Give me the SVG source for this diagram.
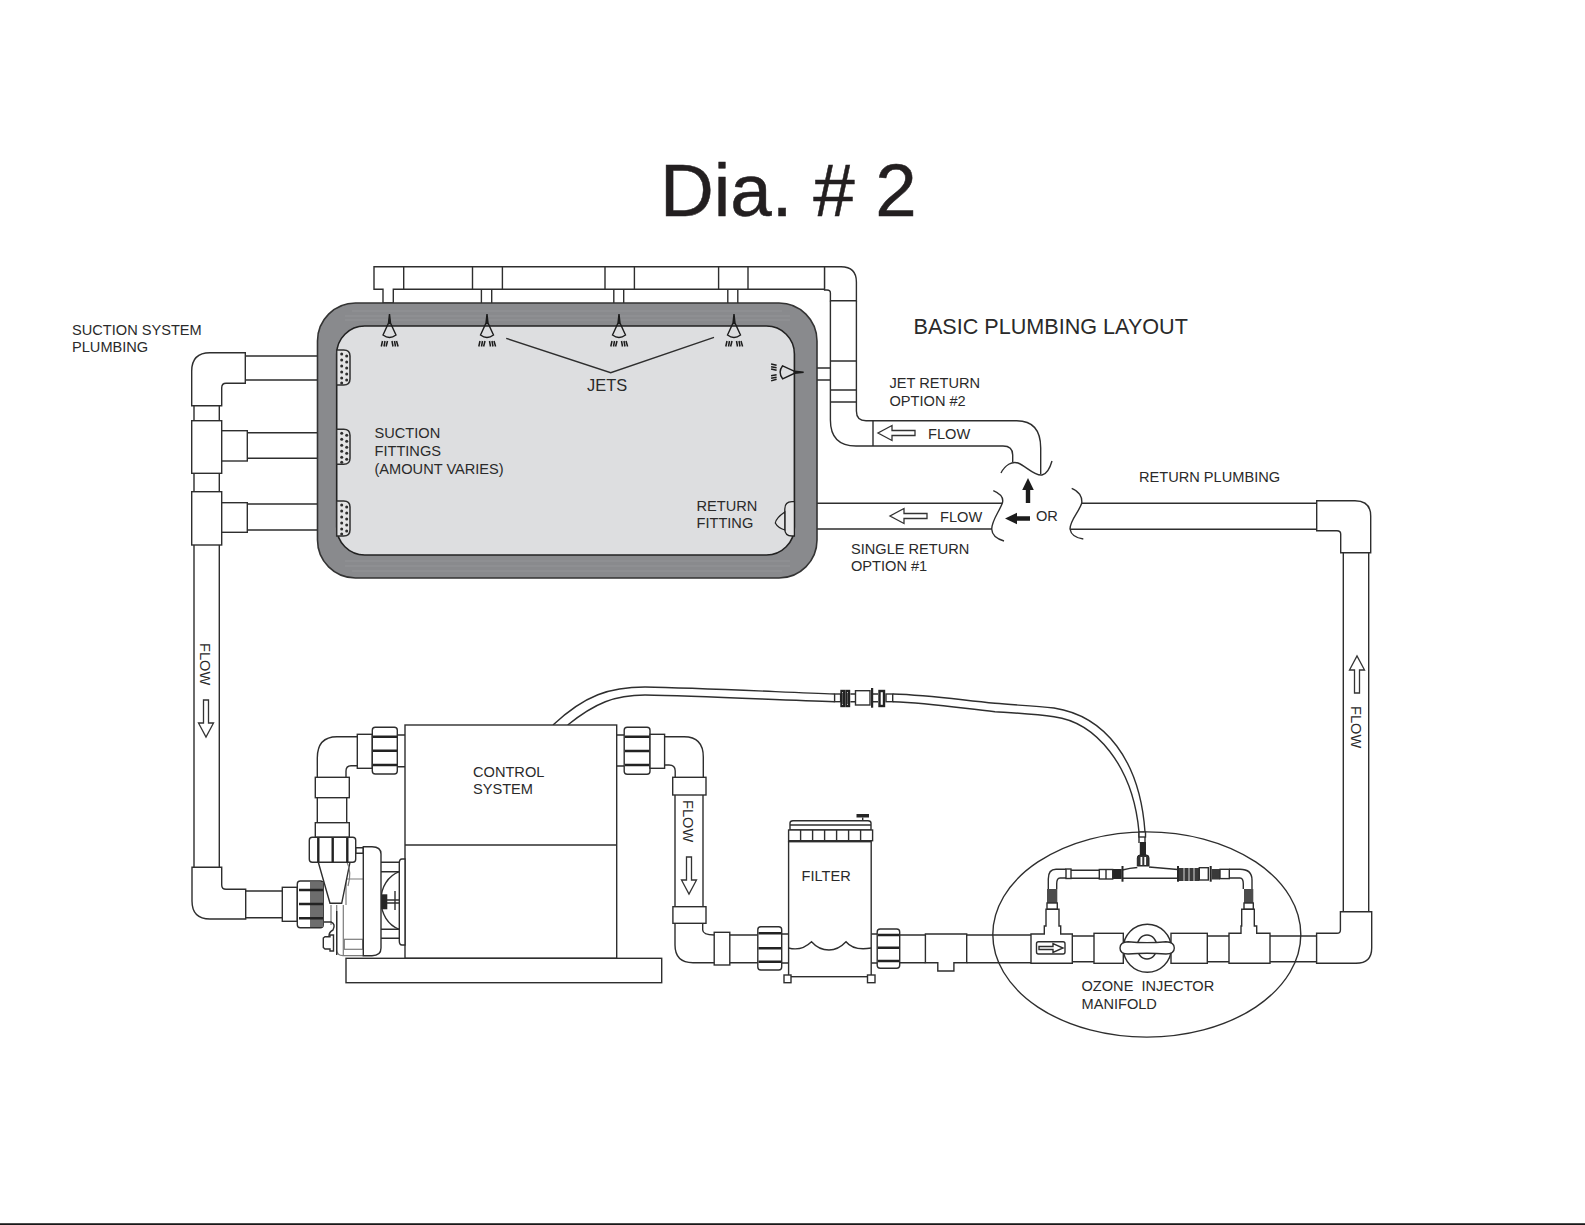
<svg xmlns="http://www.w3.org/2000/svg" width="1585" height="1225" viewBox="0 0 1585 1225">
<style>
.l{fill:none;stroke:#2e2e2e;stroke-width:1.4}
.f{fill:#fff;stroke:#2e2e2e;stroke-width:1.4}
.g{fill:none;stroke:#7c7c7c;stroke-width:1.2}
.d{fill:#262626;stroke:none}
.b{fill:none;stroke:#222;stroke-width:2.4}
text{font-family:"Liberation Sans",Arial,sans-serif;font-size:14.6px;fill:#2a2a2a;white-space:pre}
</style>
<defs>
<path id="flow" d="M-2.5,0h5v23h5l-7.5,14l-7.5,-14h5z" fill="#fff" stroke="#333" stroke-width="1.3"/>
<path id="solid" d="M-2.2,0h4.4v13h3.6l-5.8,12l-5.8,-12h3.6z" fill="#1c1c1c"/>
<g id="jet">
<path d="M0,0L-1,9L-6.5,21Q0,26 6.5,21L1,9Z" fill="none" stroke="#1c1c1c" stroke-width="1.4"/>
<path d="M0,0L-1.2,10L1.2,10Z" fill="#1c1c1c"/>
<path d="M-7,27l-1.2,5.5M-4.5,27l-1,5.5M-2,27l-1.4,5.5M2.5,27l1,5.5M5,27l1,5.5M7,27l1.6,5.5" fill="none" stroke="#1c1c1c" stroke-width="1.5"/>
</g>
<g id="suction">
<path d="M0,0H7Q13.3,0 13.3,6V29Q13.3,35 7,35H0Z" fill="#e4e4e5" stroke="#2e2e2e" stroke-width="1.5"/>
<g fill="#2e2e2e">
<circle cx="5" cy="4" r="1.5"/><circle cx="10" cy="6" r="1.5"/><circle cx="5" cy="10" r="1.5"/><circle cx="10" cy="12" r="1.5"/><circle cx="5" cy="16" r="1.5"/><circle cx="10" cy="18" r="1.5"/><circle cx="5" cy="22" r="1.5"/><circle cx="10" cy="24" r="1.5"/><circle cx="5" cy="28" r="1.5"/><circle cx="10" cy="30" r="1.5"/><circle cx="5" cy="33" r="1.5"/>
</g>
</g>
</defs>
<rect width="1585" height="1225" fill="#fff"/>
<rect y="1223.3" width="1585" height="1.6" fill="#000"/>
<text x="660" y="216" style="font-size:74.5px;fill:#231f20;stroke:#231f20;stroke-width:.5">Dia. # 2</text>

<g id="connectors">
<!-- jet header -->
<path class="f" d="M374,266.7H824.6V289.3H393.3V303H383V289.3H374Z"/>
<path class="l" d="M403.7,266.7V289.3M472.5,266.7V289.3M502.4,266.7V289.3M605,266.7V289.3M634.4,266.7V289.3M718.6,266.7V289.3M748,266.7V289.3"/>
<path class="l" d="M481.4,289.3V303M491.7,289.3V303M613.8,289.3V303M623.7,289.3V303M727.8,289.3V303M737.8,289.3V303"/>
<path class="f" d="M824.6,266.7H841Q856.4,266.7 856.4,282V300.7H830.4V293Q830.4,290 827,290H824.6Z"/>
<path class="l" d="M856.4,300.7V411Q856.4,420.7 866,420.7H1016.7Q1040.7,420.7 1040.7,448V474"/>
<path class="l" d="M830.4,300.7V420Q830.4,446 856,446H1003Q1012.7,446 1012.7,455V462"/>
<path class="l" d="M830.4,361H856.4M830.4,390H856.4M830.4,402H856.4M873,420.7V446M817,368H830.4M817,380H830.4"/>
<path class="l" d="M1001,473C1005,465 1012,461 1018,463C1026,466 1034,476 1042,475C1047,474 1050,468 1052,461"/>
<!-- return pipe -->
<path class="l" d="M817,503.3H1002.3M817,529H991.7"/>
<path class="l" d="M993.3,490.7C1001,494 1004,498 1002.3,503.3C999,512 992,520 991.7,529C992,535 997,539 1004,541"/>
<path class="l" d="M1071.7,488.3C1079,491 1082.5,497 1081.7,503.3C1079,512 1070,520 1070,529C1071,535 1076,538 1083.3,539"/>
<path class="l" d="M1081.7,503.3H1316.7M1070,529.3H1316.7"/>
<path class="f" d="M1316.7,500.7H1355Q1370.7,500.7 1370.7,516V552.7H1340.7V534Q1340.7,530.7 1337,530.7H1316.7Z"/>
<path class="l" d="M1343.3,552.7V911.7M1368.7,552.7V911.7"/>
<path class="f" d="M1340.4,911.7H1371.7V948Q1371.7,963.3 1356,963.3H1316.6V933.3H1337Q1340.4,933.3 1340.4,930Z"/>
<!-- suction pipes -->
<path class="l" d="M245.3,356H317M245.3,380H317M247.3,432.7H317M247.3,458.3H317M247.3,504H317M247.3,530H317"/>
<path class="f" d="M191.7,405.7V371Q191.7,352.7 210,352.7H245.3V383.3H226Q221.7,383.3 221.7,388V405.7Z"/>
<path class="l" d="M194,405.7V420.7M219.3,405.7V420.7M194,473.3V491.7M219.3,473.3V491.7M194,545V867.3M219.3,545V867.3"/>
<rect class="f" x="191.7" y="420.7" width="30" height="52.6"/>
<rect class="f" x="221.7" y="430.7" width="25.6" height="30.3"/>
<rect class="f" x="191.7" y="491.7" width="30" height="53.3"/>
<rect class="f" x="221.7" y="502.7" width="25.6" height="29.6"/>
<path class="f" d="M192,867.3H221.7V885Q221.7,889.3 226,889.3H245.7V919H210Q192,919 192,901Z"/>
<path class="l" d="M245.7,891H282.3M245.7,917.7H282.3"/>
<!-- pump outlet to control system -->
<path class="l" d="M357.3,736.7H337Q317.3,736.7 317.3,758V777.3M357.3,765.7H351Q346,765.7 346,771V777.3"/>
<rect class="f" x="315.3" y="777.3" width="34" height="20.4"/>
<path class="l" d="M317.3,797.7V822.7M346.7,797.7V822.7"/>
<rect class="f" x="315.3" y="822.7" width="34" height="14.6"/>
<rect class="f" x="357.3" y="734.3" width="15" height="34"/>
<path class="l" d="M397.3,735H405M397.3,766.7H405"/>
<rect class="f" x="372.3" y="727.3" width="25" height="46.7" rx="3"/>
<path class="b" d="M373,736.7H397M373,750.7H397M373,765H397"/>
<!-- control to filter -->
<path class="l" d="M616.7,735H624.2M616.7,766H624.2"/>
<rect class="f" x="624.2" y="727.3" width="25.8" height="47" rx="3"/>
<path class="b" d="M625,736.7H649.5M625,751H649.5M625,765H649.5"/>
<rect class="f" x="650" y="734.3" width="14.6" height="34"/>
<path class="l" d="M664.6,736.7H684Q703.3,736.7 703.3,757V777.3M664.6,765H669Q675.2,765 675.2,771V777.3"/>
<rect class="f" x="672.7" y="777.3" width="33.3" height="17.7"/>
<path class="l" d="M675,795V906.7M703,795V906.7"/>
<rect class="f" x="672.9" y="906.7" width="33.1" height="16.6"/>
<path class="l" d="M675,923.3V945Q675,962.7 693,962.7H714.2M702.7,923.3V930Q703,935 714.2,935"/>
<rect class="f" x="714.2" y="932.3" width="15.6" height="32.7"/>
<path class="l" d="M729.8,935H757.8M729.8,962.7H757.8M781.7,934H788.6M781.7,963H788.6"/>
<rect class="f" x="757.8" y="926.7" width="23.9" height="43.3" rx="3"/>
<path class="b" d="M758.5,933.3H781M758.5,948.3H781M758.5,961.7H781"/>
<!-- filter to manifold -->
<path class="l" d="M871.2,934H877.2M871.2,963H877.2"/>
<rect class="f" x="877.2" y="929" width="22.5" height="39.3" rx="3"/>
<path class="b" d="M878,935H899M878,947.7H899M878,961H899"/>
<path class="l" d="M899.7,935H925.4M899.7,962.7H925.4M966.7,935H1031M966.7,962.7H1031"/>
<path class="f" d="M925.4,934H966.7V962.7H953.9V971H937.8V962.7H925.4Z"/>
<!-- hose -->
<path class="l" d="M553,725C585,695 610,687 645,687C700,688 780,692 834.6,694"/>
<path class="l" d="M567.7,725C595,703 615,695 645,695C700,696 780,700 834.6,701.7"/>
<path class="l" d="M892.7,694C930,695 960,700 995,703.3C1015,705 1035,706 1054,708C1105,716 1140,760 1145,832"/>
<path class="l" d="M892.7,701.7C930,703 960,708 995,711.7C1015,713 1035,714 1054,716.7C1095,722 1133,765 1139,832"/>
<rect class="f" x="834.6" y="694" width="6" height="7.7"/>
<rect class="b" x="841.5" y="691" width="2.5" height="15"/>
<rect class="b" x="846.5" y="691" width="2.5" height="15"/>
<path class="l" d="M850.4,694H855.5M850.4,701.7H855.5M873,694H878M873,701.7H878"/>
<rect class="f" x="855.5" y="690.7" width="14.5" height="14.3"/>
<rect class="d" x="871" y="688" width="2.2" height="19.7"/>
<rect class="b" x="879.5" y="691" width="4.5" height="15"/>
<rect class="f" x="886" y="694" width="6.7" height="7.7"/>
<!-- pipe right of manifold -->
<path class="l" d="M1072.3,936H1094M1207.3,936H1229M1207.3,961.7H1229M1072.3,961.7H1094M1270,936H1316.6M1270,961.7H1316.6"/>
</g>

<g id="tank">
<rect x="317.5" y="303" width="499.5" height="275" rx="38" fill="#898a8d" stroke="#333" stroke-width="1.6"/>
<path d="M352,311H782M345,316H790M345,320H790M345,561H790M345,566H790M352,571H782" fill="none" stroke="#a2a3a5" stroke-width=".8" opacity=".55"/>
<rect x="336.7" y="326" width="457.7" height="229" rx="28" fill="#dddee0" stroke="#222" stroke-width="1.6"/>
<use href="#jet" x="389.5" y="314"/>
<use href="#jet" x="487" y="314"/>
<use href="#jet" x="619" y="314"/>
<use href="#jet" x="734" y="314"/>
<use href="#jet" transform="translate(803.6,372.3) rotate(90)"/>
<use href="#suction" x="336.7" y="350"/>
<use href="#suction" x="336.7" y="429.3"/>
<use href="#suction" x="336.7" y="501"/>
<path d="M794.4,501.7H792Q784.8,501.7 784.8,509V529Q784.8,536 792,536H794.4Z" fill="#e4e4e5" stroke="#222" stroke-width="1.3"/>
<path d="M784.8,512Q776,518 775.3,523Q778,528 784.8,530Z" fill="#e4e4e5" stroke="#222" stroke-width="1.3"/>
<path class="l" d="M506.2,338.3L610.7,372.7L714,337.3"/>
</g>

<g id="control-system">
<rect class="f" x="405" y="725" width="211.7" height="233.3"/>
<path class="l" d="M405,845H616.7"/>
<rect class="f" x="346" y="958.3" width="315.7" height="24.4"/>
</g>

<g id="pump">
<rect class="f" x="282.3" y="887.3" width="15" height="34"/>
<path class="g" d="M336.7,905V950Q337,955.7 343,955.7H363.3M343.3,905V955.7M346.7,879H363.3M346,879V905"/>
<rect class="g" x="344.3" y="939.3" width="18.4" height="10"/>
<path class="g" d="M331,905V925"/>
<path class="l" d="M323.3,922H331Q336,924 333,930Q329,932 329,936"/>
<path class="f" d="M323.3,938L325,936.7H330V935H333.5V951H330V949H325L323.3,947.5Z"/>
<path class="l" d="M336.7,911V955"/>
<path class="l" d="M381,862.3H399.3M381,871.7H399.3M381,929.3H399.3M381,938.3H399.3"/>
<path class="l" d="M399.3,871.7C388,876 381,887 381,900C381,914 388,925 399.3,929.3"/>
<path class="f" d="M405,859H402Q399.3,859 399.3,863V941Q399.3,945 402,945H405Z"/>
<rect class="d" x="381" y="894.3" width="6.3" height="15"/>
<path class="l" d="M387,900H399M387,903H399M395,891V910"/>
<path class="f" d="M355.7,847.7H363.3V853.3H355.7Z"/>
<path class="f" d="M363.3,846.7H372Q381,846.7 381,854V948Q381,955.7 372,955.7H363.3Z"/>
<rect class="f" x="297.3" y="881" width="26" height="46.7" rx="3"/>
<rect x="310" y="882" width="13.3" height="45" fill="#6d6d6d"/>
<path class="b" d="M299,890H323M299,904H323M299,918.3H323"/>
<path class="f" d="M318.3,862.3L330,903.3L341.7,903.3L350,862.3Z"/>
<path class="g" d="M347,862.3Q352,872 348,886"/>
<rect class="f" x="309.3" y="837.3" width="46.4" height="25" rx="3"/>
<path class="b" d="M318.3,838V862M332.7,838V862M347.3,838V862"/>
</g>

<g id="filter">
<rect class="f" x="788.6" y="841.7" width="82.6" height="135"/>
<path class="l" d="M788.6,948C796,950 804,949 811.5,941.7C818,949 824,950 829,950C836,950 841,947 846,941.7C852,949 860,950 871.2,948"/>
<rect class="f" x="784" y="975" width="7" height="7.7"/>
<rect class="f" x="867.5" y="975" width="7.5" height="7.7"/>
<path class="f" d="M790,830V823Q790,820.7 793,820.7H868Q871,820.7 871,823V830Z"/>
<path class="l" d="M790,825H871"/>
<rect class="d" x="856.5" y="814" width="12.5" height="3.5"/>
<path class="l" d="M862.7,817.5V821"/>
<rect class="f" x="788.6" y="830" width="84" height="10.7"/>
<path class="l" d="M800.6,830V840.7M812.6,830V840.7M824.6,830V840.7M836.6,830V840.7M848.6,830V840.7M860.6,830V840.7"/>
</g>

<g id="ozone-injector-manifold">
<ellipse class="l" cx="1146.8" cy="934.5" rx="154" ry="102.6"/>
<path class="f" d="M1031,934H1044.3V926H1046V909.3H1059V926H1060.7V934H1072.3V963.3H1031Z"/>
<rect class="f" x="1036.5" y="941.7" width="28.5" height="12.3" rx="2"/>
<path class="f" d="M1039,946.5H1053V943.5L1063,948L1053,952.5V949.5H1039Z"/>
<rect class="f" x="1094" y="933.3" width="29.3" height="30"/>
<rect class="f" x="1171" y="933.3" width="36.3" height="30"/>
<ellipse class="f" cx="1147.3" cy="948.3" rx="24" ry="24"/>
<ellipse class="f" cx="1147" cy="947" rx="10" ry="12"/>
<path class="f" d="M1120,948Q1120,942 1128,941.7Q1147,943.5 1166,941.7Q1174.3,942 1174.3,948Q1174.3,954 1166,954Q1147,952.5 1128,954Q1120,954 1120,948Z"/>
<path class="f" d="M1229,933.3H1241V926H1241.7V909.3H1254.3V926H1256.7V933.3H1270V963.3H1229Z"/>
<path class="l" d="M1139,832V843M1145,832V843"/>
<rect class="f" x="1139" y="832" width="6.5" height="5"/>
<rect class="d" x="1139.8" y="842" width="6.2" height="13"/>
<path d="M1137.3,866V858Q1137.3,855 1140,855H1146.5Q1149,855 1149,858V866Z" fill="#333" stroke="#222"/>
<rect x="1140.5" y="857" width="1.8" height="8" fill="#fff"/>
<rect x="1144.3" y="857" width="1.8" height="8" fill="#fff"/>
<path class="l" d="M1122.3,870Q1130,868 1137.3,867.5M1149,867Q1160,868 1177.7,869.5M1122.3,878.3H1177.7"/>
<rect class="d" x="1121.5" y="866" width="2" height="15.7"/>
<rect class="d" x="1112.7" y="869" width="9" height="10"/>
<rect class="f" x="1099.3" y="869.5" width="13.4" height="9.5"/>
<path class="l" d="M1106,869.5V879M1071,870.3H1099.3M1071,878.3H1099.3"/>
<rect class="f" x="1066" y="869" width="5" height="9.5"/>
<path class="l" d="M1066,869.3H1056Q1048.3,869.3 1048.3,879V889M1066,878H1060Q1056.7,878 1056.7,884V889"/>
<rect x="1047" y="889" width="10.3" height="14" fill="#4c4c4c"/>
<rect class="f" x="1047" y="903" width="10.3" height="6"/>
<rect class="d" x="1177" y="866" width="2" height="15.7"/>
<rect x="1179" y="868" width="20.3" height="13" fill="#3a3a3a"/>
<path stroke="#fff" stroke-width=".8" d="M1184,868V881M1189,868V881M1194,868V881"/>
<rect class="f" x="1199.3" y="867.7" width="9" height="12.3"/>
<rect class="d" x="1209.7" y="866" width="2" height="15.7"/>
<rect x="1211.7" y="869" width="8.3" height="10.5" fill="#3a3a3a"/>
<rect class="f" x="1220" y="869.3" width="9.3" height="9.3"/>
<path class="l" d="M1229.3,869.3H1240Q1252,869.3 1252,880V889M1229.3,878H1240Q1243.3,878 1243.3,884V889"/>
<rect x="1244" y="889" width="9.3" height="14" fill="#4c4c4c"/>
<rect class="f" x="1244" y="903" width="9.3" height="6"/>
</g>

<g id="flow-arrows">
<use href="#flow" x="206" y="700"/>
<use href="#flow" x="689" y="857"/>
<use href="#flow" transform="translate(1357,693) rotate(180)"/>
<use href="#flow" transform="translate(915,433) rotate(90)"/>
<use href="#flow" transform="translate(927,516) rotate(90)"/>
<use href="#solid" transform="translate(1028,503) rotate(180)"/>
<use href="#solid" transform="translate(1030,518.5) rotate(90)"/>
</g>

<g id="labels">
<text x="72" y="334.5">SUCTION SYSTEM</text>
<text x="72" y="352">PLUMBING</text>
<text x="913.5" y="334" style="font-size:21.6px">BASIC PLUMBING LAYOUT</text>
<text x="587" y="391" style="font-size:16.4px">JETS</text>
<text x="374.5" y="438.2">SUCTION</text>
<text x="374.5" y="456">FITTINGS</text>
<text x="374.5" y="474">(AMOUNT VARIES)</text>
<text x="696.5" y="511">RETURN</text>
<text x="696.5" y="528.4">FITTING</text>
<text x="889.5" y="388">JET RETURN</text>
<text x="889.5" y="405.5">OPTION #2</text>
<text x="928" y="439">FLOW</text>
<text x="940" y="521.5">FLOW</text>
<text x="1036" y="520.5">OR</text>
<text x="1139" y="482">RETURN PLUMBING</text>
<text x="851" y="554">SINGLE RETURN</text>
<text x="851" y="571">OPTION #1</text>
<text x="473" y="776.5">CONTROL</text>
<text x="473" y="794">SYSTEM</text>
<text x="801.6" y="881">FILTER</text>
<text x="1081.5" y="991">OZONE  INJECTOR</text>
<text x="1081.5" y="1008.5">MANIFOLD</text>
<text transform="translate(200,643) rotate(90)">FLOW</text>
<text transform="translate(683,800) rotate(90)">FLOW</text>
<text transform="translate(1351,706) rotate(90)">FLOW</text>
</g>
</svg>
